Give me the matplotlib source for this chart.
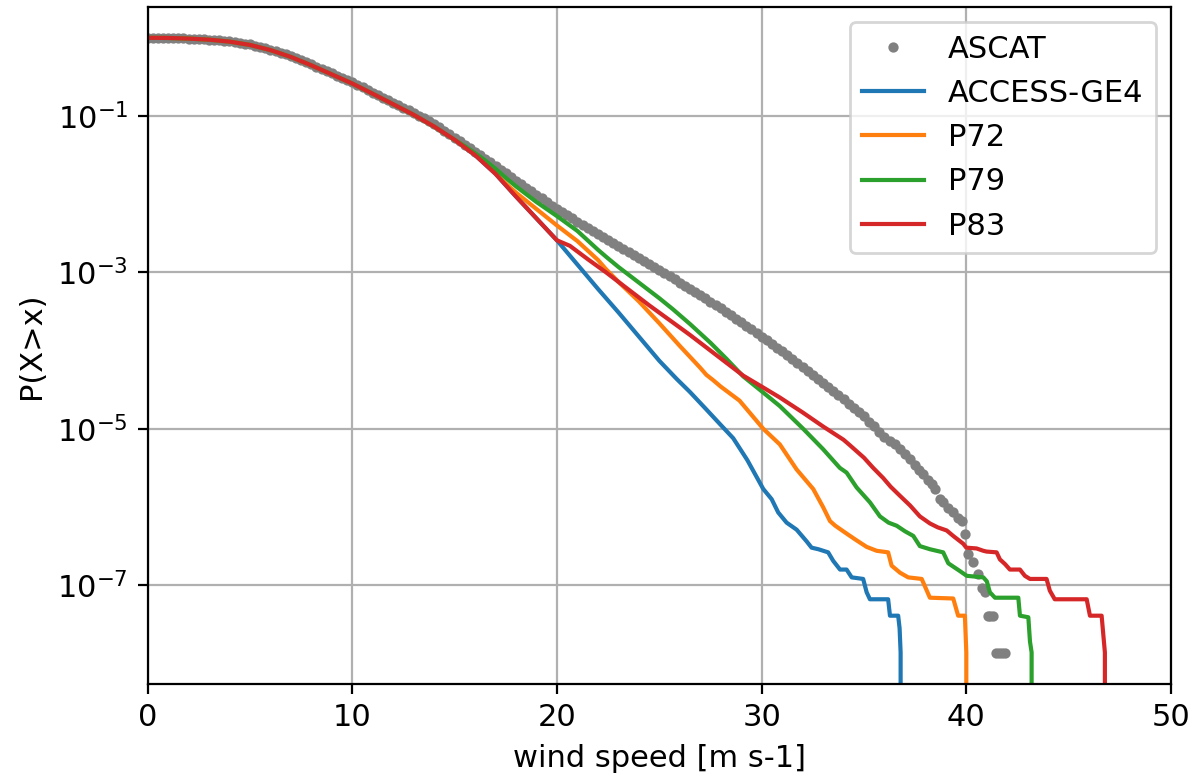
import numpy as np
import matplotlib
matplotlib.use('Agg')
import matplotlib.pyplot as plt
from matplotlib.ticker import NullLocator, FixedLocator

plt.rcParams['font.size'] = 11

# ASCAT exceedance probability (log10) on a 0.25 m/s grid, 0 - 35 m/s
ascat_grid_x = np.arange(0, 35.01, 0.25)
ascat_grid_log = [
    0.000, 0.000, -0.001, -0.001,
    -0.002, -0.003, -0.005, -0.007,
    -0.009, -0.012, -0.015, -0.018,
    -0.022, -0.027, -0.032, -0.038,
    -0.045, -0.053, -0.063, -0.073,
    -0.085, -0.099, -0.114, -0.131,
    -0.150, -0.170, -0.191, -0.213,
    -0.235, -0.260, -0.286, -0.313,
    -0.340, -0.368, -0.397, -0.426,
    -0.455, -0.484, -0.512, -0.541,
    -0.570, -0.602, -0.635, -0.667,
    -0.700, -0.732, -0.765, -0.797,
    -0.830, -0.862, -0.895, -0.927,
    -0.960, -0.995, -1.031, -1.068,
    -1.105, -1.146, -1.188, -1.231,
    -1.275, -1.320, -1.365, -1.410,
    -1.455, -1.501, -1.547, -1.594,
    -1.640, -1.686, -1.733, -1.779,
    -1.825, -1.871, -1.918, -1.964,
    -2.010, -2.055, -2.100, -2.145,
    -2.190, -2.230, -2.270, -2.310,
    -2.350, -2.389, -2.428, -2.466,
    -2.505, -2.544, -2.583, -2.621,
    -2.660, -2.699, -2.738, -2.776,
    -2.815, -2.854, -2.893, -2.931,
    -2.970, -3.010, -3.050, -3.090,
    -3.130, -3.170, -3.210, -3.250,
    -3.290, -3.332, -3.375, -3.417,
    -3.460, -3.504, -3.548, -3.591,
    -3.635, -3.681, -3.728, -3.774,
    -3.820, -3.867, -3.915, -3.962,
    -4.010, -4.060, -4.110, -4.160,
    -4.210, -4.262, -4.315, -4.367,
    -4.420, -4.471, -4.523, -4.574,
    -4.625, -4.679, -4.733, -4.786,
    -4.840,
]
# sparse ASCAT tail above 35 m/s
ascat_tail_x = [35.25, 35.5, 35.75, 36.0, 36.25, 36.5, 36.75, 37.0, 37.25, 37.5,
                37.7, 37.9, 38.14, 38.3, 38.47, 38.71, 38.87, 39.12, 39.36, 39.6,
                39.77, 39.93, 40.09, 40.34, 40.58, 40.75, 40.91, 41.05, 41.18, 41.32,
                41.45, 41.6, 41.75, 41.9]
ascat_tail_log = [-4.91, -4.97, -5.04, -5.10, -5.15, -5.20, -5.26, -5.32, -5.39, -5.46,
                  -5.53, -5.58, -5.65, -5.71, -5.77, -5.90, -5.94, -6.01, -6.07, -6.14,
                  -6.18, -6.35, -6.60, -6.70, -6.86, -7.03, -7.09, -7.39, -7.39, -7.39,
                  -7.87, -7.87, -7.87, -7.87]

# common part of the model curves below 15 m/s
body_x = [0, 1, 2, 3, 4, 5, 6, 7, 8, 9, 10, 11, 12, 13, 14, 15]
body_log = [0.000, -0.002, -0.010, -0.024, -0.049, -0.091, -0.157, -0.245,
            -0.352, -0.468, -0.585, -0.716, -0.850, -0.985, -1.135, -1.305]

access_x = [16, 17, 18, 19, 20, 21, 22, 22.4, 23, 24, 25, 25.84, 26.5, 27.29, 28, 28.61,
            29.3, 30.08, 30.49, 30.81, 31.22, 31.71, 32.2, 32.44, 32.77, 33.25, 33.5, 33.83,
            34.15, 34.4, 34.96, 35.13, 35.29, 36.18, 36.27, 36.67, 36.74, 36.79, 36.8]
access_log = [-1.50, -1.74, -2.03, -2.31, -2.59, -2.90, -3.21, -3.33, -3.51, -3.82, -4.13,
              -4.36, -4.53, -4.75, -4.95, -5.12, -5.40, -5.77, -5.90, -6.07, -6.20, -6.29,
              -6.44, -6.52, -6.54, -6.58, -6.69, -6.80, -6.80, -6.90, -6.92, -7.09, -7.18,
              -7.18, -7.39, -7.39, -7.55, -7.86, None]

p72_x = [16, 16.5, 17, 17.54, 18, 19, 20, 21, 22, 22.4, 23, 24, 25, 26, 27, 27.3, 27.64,
         28, 28.92, 29.5, 30.08, 30.89, 31.71, 32.52, 33, 33.34, 33.6, 34.15, 34.6, 35.13,
         35.62, 36.18, 36.35, 36.76, 37.16, 37.82, 38.22, 39.36, 39.6, 39.93, 40.0, 40.1]
p72_log = [-1.495, -1.60, -1.735, -1.873, -1.98, -2.19, -2.40, -2.60, -2.84, -2.96, -3.12,
           -3.37, -3.65, -3.94, -4.22, -4.31, -4.38, -4.46, -4.64, -4.82, -5.00, -5.20,
           -5.52, -5.77, -6.00, -6.18, -6.24, -6.34, -6.42, -6.51, -6.56, -6.58, -6.75,
           -6.84, -6.90, -6.92, -7.16, -7.17, -7.39, -7.39, -7.86, None]

p79_x = [15.5, 16, 16.5, 17, 17.54, 18, 19, 20, 21, 22, 22.4, 23, 24, 25, 25.66, 26.5,
         27.5, 28.3, 29.1, 30, 30.89, 32.03, 33, 33.82, 34.15, 34.64, 35.29, 35.78, 36.2,
         36.6, 37, 37.41, 37.73, 38.22, 38.87, 39.12, 39.69, 40.02, 40.83, 41.0, 41.15,
         41.4, 42.54, 42.62, 43.03, 43.11, 43.19, 43.4]
p79_log = [-1.385, -1.475, -1.57, -1.675, -1.80, -1.90, -2.10, -2.28, -2.47, -2.71, -2.80,
           -2.93, -3.13, -3.33, -3.47, -3.66, -3.90, -4.11, -4.33, -4.52, -4.71, -5.00,
           -5.26, -5.50, -5.56, -5.75, -5.94, -6.12, -6.20, -6.24, -6.31, -6.37, -6.50,
           -6.54, -6.58, -6.72, -6.82, -6.88, -6.90, -6.95, -7.09, -7.16, -7.16, -7.39,
           -7.41, -7.72, -7.86, None]

p83_x = [16, 17, 18, 19, 20, 20.63, 21.5, 22.4, 23.5, 24.5, 25.66, 26.5, 27.5, 28.3, 29.1,
         30, 30.89, 32, 33, 34, 34.31, 35, 35.45, 35.94, 36.3, 36.77, 37.25, 37.73, 38.22,
         38.6, 39.04, 39.36, 39.85, 40.0, 40.5, 40.83, 40.99, 41.48, 41.64, 41.89, 42.13,
         42.62, 42.86, 43.11, 43.92, 44.08, 44.32, 45.88, 46.04, 46.61, 46.77, 46.88]
p83_log = [-1.50, -1.74, -2.03, -2.31, -2.59, -2.66, -2.83, -3.00, -3.22, -3.42, -3.64,
           -3.80, -4.00, -4.16, -4.32, -4.46, -4.60, -4.79, -4.97, -5.14, -5.21, -5.37,
           -5.50, -5.63, -5.74, -5.86, -5.98, -6.12, -6.21, -6.26, -6.30, -6.37, -6.47,
           -6.52, -6.53, -6.56, -6.57, -6.58, -6.67, -6.73, -6.80, -6.80, -6.88, -6.92,
           -6.92, -7.07, -7.18, -7.18, -7.39, -7.39, -7.86, None]


def to_prob(logs):
    # None marks the point where no samples are left (P = 0)
    return np.array([0.0 if v is None else 10.0 ** v for v in logs])


def model_curve(tail_x, tail_log):
    x = np.concatenate([body_x, tail_x])
    p = np.concatenate([to_prob(body_log), to_prob(tail_log)])
    return x, p


ascat_x = np.concatenate([ascat_grid_x, ascat_tail_x])
ascat_p = np.concatenate([to_prob(ascat_grid_log), to_prob(ascat_tail_log)])

models = [
    ('ACCESS-GE4', access_x, access_log, 'C0'),
    ('P72', p72_x, p72_log, 'C1'),
    ('P79', p79_x, p79_log, 'C2'),
    ('P83', p83_x, p83_log, 'C3'),
]

fig = plt.figure(figsize=(5.98, 3.905), dpi=200)
ax = fig.add_axes([0.1234, 0.1242, 0.8557, 0.8668])

ax.plot(ascat_x, ascat_p, '.', color='gray', ms=5.4, label='ASCAT')
for name, tx, tl, col in models:
    x, p = model_curve(tx, tl)
    ax.plot(x, p, color=col, label=name)

ax.set_yscale('log')
ax.set_xlim(0, 50)
ax.yaxis.set_major_locator(FixedLocator([1e-1, 1e-3, 1e-5, 1e-7]))
ax.yaxis.set_minor_locator(NullLocator())
ax.set_xlabel('wind speed [m s-1]')
ax.set_ylabel('P(X>x)')
ax.grid(True)
ax.legend(loc='upper right')

fig.savefig('out.png', dpi=200)
